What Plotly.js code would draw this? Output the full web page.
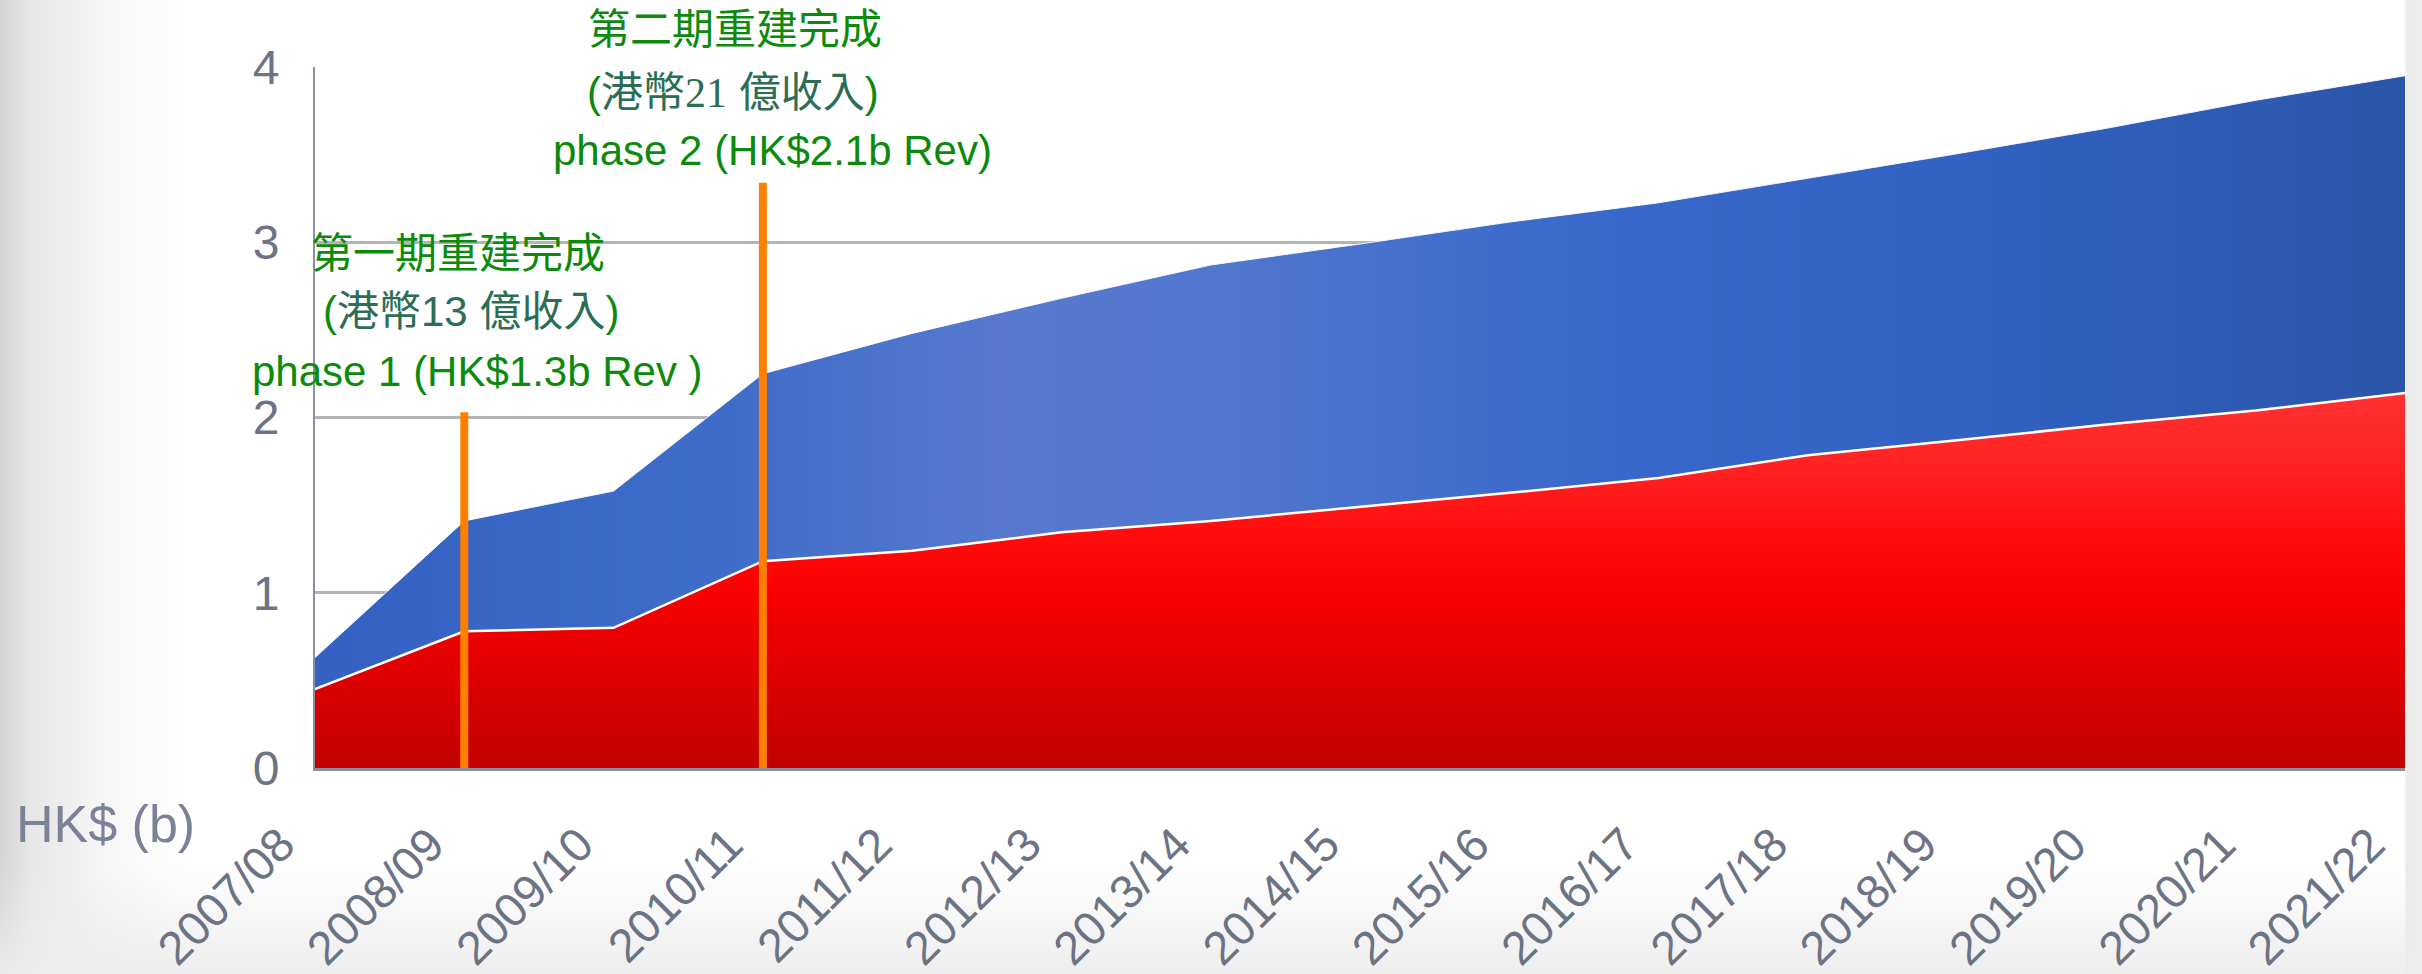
<!DOCTYPE html>
<html>
<head>
<meta charset="utf-8">
<script src="https://cdn.plot.ly/plotly-3.0.1.min.js"></script>
<style>
  html, body { margin: 0; padding: 0; width: 2422px; height: 974px; overflow: hidden; }
  body {
    background:
      linear-gradient(to bottom, rgba(255,255,255,0) 0px, rgba(255,255,255,0) 860px, rgba(236,236,236,0.9) 974px),
      linear-gradient(to right, #d4d4d4 0px, #e6e6e6 30px, #f6f6f6 100px, #ffffff 190px, #ffffff 2404px, #e9e9e9 2407px, #ececec 2422px);
  }
  #chart { width: 2422px; height: 974px; }
</style>
</head>
<body>
<div id="chart"></div>
<script>
// ---- data ----
const categories = ['2007/08','2008/09','2009/10','2010/11','2011/12','2012/13','2013/14',
                    '2014/15','2015/16','2016/17','2017/18','2018/19','2019/20','2020/21','2021/22'];
const redValues   = [0.45, 0.78, 0.80, 1.18, 1.24, 1.345, 1.41, 1.49, 1.57, 1.655, 1.785, 1.87, 1.96, 2.04, 2.14];
const totalValues = [0.63, 1.41, 1.58, 2.25, 2.48, 2.68, 2.87, 2.99, 3.115, 3.225, 3.365, 3.505, 3.65, 3.81, 3.95];
const yTicks = [0, 1, 2, 3, 4];
const milestoneCats = ['2008/09', '2010/11'];
const milestoneTops = [2.03, 3.34];
const milestoneZh  = ['第一期重建完成', '第二期重建完成'];
const milestoneHkd = ['13', '21'];
const milestoneEn  = ['phase 1 (HK$1.3b Rev )', 'phase 2 (HK$2.1b Rev)'];
const unitLabel = 'HK$ (b)';

// ---- layout geometry (pixels) ----
const W = 2422, H = 974;
const L = 315, R = 2405, T = 67, B = 768;
const px = x => (x - L) / (R - L);
const py = y => (B - y) / (B - T);

const latin = 'Liberation Sans, Arial, Noto Sans CJK TC, sans-serif';
const green = '#0b8a0b';
const teal = '#2b6e53';
const grey = '#6b7385';

const traces = [
  {
    x: categories, y: totalValues, type: 'scatter', mode: 'lines',
    fill: 'tozeroy',
    line: { color: 'rgba(255,255,255,0.9)', width: 1, shape: 'linear' },
    fillgradient: {
      type: 'horizontal', start: 0, stop: 14,
      colorscale: [[0, '#3461c2'], [0.2, '#3f6dc9'], [0.33, '#5879cf'], [0.45, '#4f76ce'],
                   [0.62, '#3868cb'], [0.8, '#3161c2'], [1, '#2b55a8']]
    },
    hoverinfo: 'skip', showlegend: false
  },
  {
    x: categories, y: redValues, type: 'scatter', mode: 'lines',
    fill: 'tozeroy',
    line: { color: '#ffffff', width: 2.5, shape: 'linear' },
    fillgradient: {
      type: 'vertical', start: 0, stop: 2.15,
      colorscale: [[0, '#c20000'], [0.25, '#df0000'], [0.45, '#f80000'], [0.6, '#ff0a0a'],
                   [0.8, '#ff2222'], [1, '#ff3232']]
    },
    hoverinfo: 'skip', showlegend: false
  }
];

const shapes = milestoneCats.map((c, i) => ({
  type: 'line', xref: 'x', yref: 'y', layer: 'above',
  x0: c, x1: c, y0: 0, y1: milestoneTops[i],
  line: { color: '#ff8000', width: 8 }
}));

// text blocks: [center x px, center y px] for zh, hkd, en lines
const textPos = [
  [[458, 253], [471, 311], [477, 371]],
  [[735, 30],  [733, 92],  [772, 151]]
];
const annotations = [];
milestoneCats.forEach((c, i) => {
  const p = textPos[i];
  const num = i === 1
    ? `<span style="font-family:'Liberation Serif','Times New Roman',serif">${milestoneHkd[i]}</span>`
    : milestoneHkd[i];
  const lines = [
    `<span style="color:${green}">${milestoneZh[i]}</span>`,
    `<span style="color:${green}">(</span><span style="color:${teal}">港幣${num} 億收入</span><span style="color:${green}">)</span>`,
    `<span style="color:${green}">${milestoneEn[i]}</span>`
  ];
  lines.forEach((t, k) => annotations.push({
    xref: 'paper', yref: 'paper', x: px(p[k][0]), y: py(p[k][1]),
    xanchor: 'center', yanchor: 'middle', showarrow: false,
    text: t, font: { family: latin, size: 42, color: green }
  }));
});
annotations.push({
  xref: 'paper', yref: 'paper', x: px(14), y: py(824),
  xanchor: 'left', yanchor: 'middle', showarrow: false,
  text: unitLabel, font: { family: latin, size: 52, color: '#7a8296' }
});

const layout = {
  width: W, height: H,
  margin: { l: L, r: W - R, t: T, b: H - B, pad: 0 },
  paper_bgcolor: 'rgba(0,0,0,0)',
  plot_bgcolor: '#ffffff',
  showlegend: false,
  xaxis: {
    type: 'category', range: [0, categories.length - 1],
    showgrid: false, zeroline: false,
    showline: true, linecolor: '#8a909c', linewidth: 3,
    ticks: '', tickangle: -45, ticklabelstandoff: 27, ticklabelshift: -34,
    tickfont: { family: latin, size: 47, color: grey }
  },
  yaxis: {
    range: [0, 4], tickvals: yTicks, ticktext: yTicks.map(String),
    showgrid: true, gridcolor: '#b4b4b4', gridwidth: 3,
    zeroline: false, showline: true, linecolor: '#8891a4', linewidth: 2,
    ticks: '', ticklabelstandoff: 24,
    tickfont: { family: latin, size: 48, color: grey }
  },
  shapes: shapes,
  annotations: annotations
};

Plotly.newPlot('chart', traces, layout, { staticPlot: true, displayModeBar: false });
</script>
</body>
</html>
